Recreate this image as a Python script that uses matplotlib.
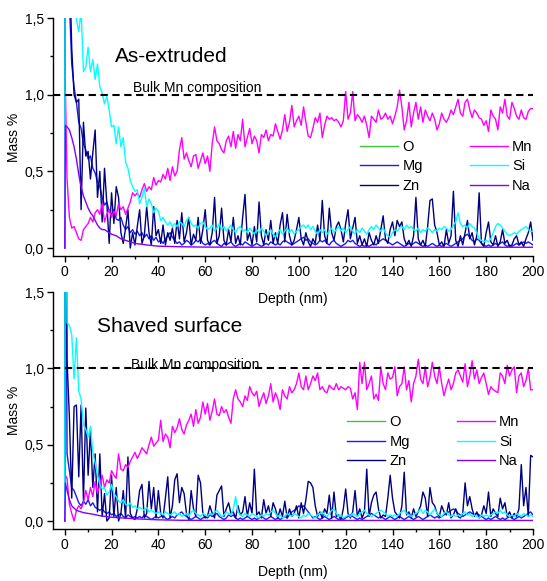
import matplotlib
matplotlib.use("Agg")
import matplotlib.pyplot as plt
import numpy as np
from matplotlib.ticker import MultipleLocator, FuncFormatter

plt.rcParams["font.family"] = ["Liberation Sans", "DejaVu Sans"]

# depth grid (nm) shared by the noisy profiles: surface point, 0.3 nm, then 1 nm steps
depth = np.r_[0.0, 0.3, np.arange(1, 201)]

# ---------------- As-extruded ----------------
ext_mn = [0.0, 1.02,
    0.45, 0.20, 0.13, 0.14, 0.10, 0.06, 0.05, 0.12, 0.14, 0.16,
    0.20, 0.17, 0.23, 0.25, 0.22, 0.29, 0.17, 0.22, 0.25, 0.20,
    0.24, 0.21, 0.29, 0.25, 0.27, 0.22, 0.26, 0.30, 0.36, 0.34,
    0.36, 0.33, 0.38, 0.42, 0.37, 0.40, 0.38, 0.46, 0.41, 0.44,
    0.43, 0.48, 0.45, 0.52, 0.44, 0.53, 0.47, 0.50, 0.64, 0.72,
    0.58, 0.62, 0.57, 0.53, 0.60, 0.61, 0.52, 0.57, 0.62, 0.55,
    0.60, 0.50, 0.68, 0.79, 0.70, 0.68, 0.64, 0.62, 0.70, 0.73,
    0.66, 0.76, 0.65, 0.74, 0.70, 0.84, 0.66, 0.72, 0.78, 0.68,
    0.73, 0.70, 0.62, 0.74, 0.72, 0.77, 0.70, 0.74, 0.73, 0.81,
    0.76, 0.71, 0.77, 0.87, 0.76, 0.82, 0.93, 0.79, 0.83, 0.86,
    0.80, 0.92, 0.82, 0.73, 0.72, 0.78, 0.85, 0.82, 0.88, 0.72,
    0.80, 0.86, 0.84, 0.85, 0.83, 0.84, 0.82, 0.79, 0.83, 1.02,
    0.84, 0.88, 1.02, 0.83, 0.87, 0.85, 0.82, 0.86, 0.80, 0.72,
    0.86, 0.84, 0.82, 0.90, 0.84, 0.85, 0.88, 0.84, 0.86, 0.81,
    0.86, 0.92, 1.03, 0.92, 0.77, 0.83, 0.95, 0.79, 0.88, 0.95,
    0.84, 0.92, 0.82, 0.90, 0.86, 0.83, 0.88, 0.84, 0.77, 0.81,
    0.88, 0.84, 0.82, 0.85, 0.90, 0.87, 0.92, 0.97, 0.88, 0.86,
    0.95, 0.97, 0.90, 0.85, 0.90, 0.88, 0.85, 0.84, 0.80, 0.83,
    0.76, 0.90, 0.86, 0.84, 0.77, 0.92, 0.88, 0.97, 0.86, 0.84,
    0.95, 0.91, 0.86, 0.84, 0.90, 0.85, 0.84, 0.89, 0.91, 0.91]

ext_si = [0.0, 3.0,
    3.00, 2.60, 2.20, 1.80, 1.49, 1.41, 1.55, 1.15, 1.18, 1.31,
    1.15, 1.23, 1.10, 1.20, 1.05, 1.01, 0.94, 0.99, 0.90, 0.79,
    0.80, 0.68, 0.79, 0.66, 0.72, 0.56, 0.52, 0.44, 0.40, 0.37,
    0.38, 0.29, 0.33, 0.39, 0.27, 0.32, 0.29, 0.23, 0.26, 0.24,
    0.18, 0.20, 0.17, 0.15, 0.17, 0.14, 0.16, 0.14, 0.17, 0.16,
    0.14, 0.18, 0.20, 0.16, 0.14, 0.15, 0.13, 0.16, 0.17, 0.14,
    0.12, 0.13, 0.15, 0.11, 0.13, 0.16, 0.12, 0.14, 0.11, 0.13,
    0.15, 0.12, 0.10, 0.13, 0.14, 0.11, 0.12, 0.10, 0.13, 0.11,
    0.09, 0.12, 0.10, 0.13, 0.11, 0.08, 0.10, 0.12, 0.09, 0.07,
    0.10, 0.12, 0.09, 0.11, 0.13, 0.10, 0.12, 0.09, 0.11, 0.12,
    0.14, 0.15, 0.13, 0.15, 0.12, 0.14, 0.11, 0.09, 0.12, 0.10,
    0.12, 0.09, 0.11, 0.13, 0.10, 0.12, 0.14, 0.11, 0.13, 0.10,
    0.12, 0.14, 0.11, 0.09, 0.12, 0.10, 0.13, 0.11, 0.09, 0.12,
    0.14, 0.12, 0.15, 0.13, 0.11, 0.13, 0.10, 0.08, 0.07, 0.10,
    0.12, 0.11, 0.13, 0.14, 0.12, 0.15, 0.13, 0.14, 0.12, 0.11,
    0.13, 0.10, 0.12, 0.11, 0.13, 0.12, 0.10, 0.12, 0.11, 0.13,
    0.12, 0.14, 0.13, 0.11, 0.12, 0.15, 0.17, 0.23, 0.16, 0.14,
    0.15, 0.13, 0.16, 0.14, 0.13, 0.10, 0.06, 0.05, 0.04, 0.05,
    0.04, 0.06, 0.10, 0.14, 0.16, 0.15, 0.13, 0.11, 0.09, 0.08,
    0.09, 0.10, 0.09, 0.11, 0.12, 0.13, 0.14, 0.12, 0.11, 0.11]

ext_mg = [0.0, 3.0,
    2.40, 1.60, 1.20, 1.05, 0.95, 0.82, 0.78, 0.68, 0.64, 0.58,
    0.60, 0.52, 0.49, 0.43, 0.40, 0.33, 0.28, 0.30, 0.24, 0.22,
    0.25, 0.19, 0.18, 0.20, 0.15, 0.12, 0.14, 0.10, 0.12, 0.09,
    0.11, 0.08, 0.10, 0.07, 0.09, 0.06, 0.08, 0.05, 0.07, 0.04,
    0.05, 0.03, 0.06, 0.08, 0.10, 0.07, 0.05, 0.03, 0.04, 0.02,
    0.03, 0.05, 0.04, 0.02, 0.03, 0.05, 0.04, 0.06, 0.03, 0.02,
    0.03, 0.02, 0.04, 0.05, 0.03, 0.02, 0.01, 0.03, 0.02, 0.03,
    0.04, 0.02, 0.01, 0.02, 0.03, 0.02, 0.04, 0.03, 0.02, 0.01,
    0.02, 0.03, 0.02, 0.01, 0.02, 0.03, 0.02, 0.04, 0.03, 0.02,
    0.03, 0.02, 0.04, 0.05, 0.04, 0.03, 0.02, 0.03, 0.04, 0.05,
    0.06, 0.07, 0.05, 0.06, 0.04, 0.03, 0.02, 0.03, 0.05, 0.04,
    0.05, 0.03, 0.02, 0.04, 0.05, 0.03, 0.02, 0.01, 0.02, 0.03,
    0.05, 0.04, 0.05, 0.03, 0.02, 0.01, 0.02, 0.01, 0.02, 0.01,
    0.02, 0.03, 0.02, 0.04, 0.05, 0.06, 0.05, 0.04, 0.03, 0.02,
    0.03, 0.04, 0.03, 0.02, 0.01, 0.02, 0.03, 0.02, 0.03, 0.04,
    0.03, 0.02, 0.01, 0.02, 0.01, 0.02, 0.03, 0.02, 0.01, 0.02,
    0.01, 0.02, 0.03, 0.02, 0.01, 0.02, 0.03, 0.04, 0.05, 0.06,
    0.08, 0.09, 0.07, 0.05, 0.04, 0.06, 0.05, 0.03, 0.02, 0.01,
    0.02, 0.01, 0.02, 0.03, 0.02, 0.03, 0.04, 0.02, 0.01, 0.02,
    0.01, 0.02, 0.03, 0.02, 0.03, 0.04, 0.03, 0.04, 0.03, 0.02]

ext_zn = [0.0, 3.0,
    2.60, 1.90, 1.30, 1.00, 0.95, 0.97, 0.25, 0.82, 0.60, 0.63,
    0.45, 0.62, 0.77, 0.33, 0.50, 0.17, 0.52, 0.29, 0.03, 0.36,
    0.16, 0.40, 0.33, 0.10, 0.03, 0.13, 0.25, 0.00, 0.10, 0.02,
    0.14, 0.25, 0.03, 0.08, 0.27, 0.10, 0.02, 0.27, 0.08, 0.12,
    0.03, 0.15, 0.02, 0.10, 0.05, 0.13, 0.03, 0.18, 0.06, 0.23,
    0.04, 0.10, 0.20, 0.02, 0.09, 0.05, 0.20, 0.03, 0.12, 0.25,
    0.05, 0.02, 0.10, 0.33, 0.03, 0.08, 0.26, 0.05, 0.02, 0.12,
    0.04, 0.20, 0.03, 0.08, 0.02, 0.20, 0.35, 0.05, 0.10, 0.02,
    0.14, 0.04, 0.30, 0.08, 0.02, 0.12, 0.05, 0.18, 0.03, 0.10,
    0.03, 0.15, 0.23, 0.04, 0.22, 0.08, 0.02, 0.05, 0.12, 0.20,
    0.06, 0.02, 0.10, 0.04, 0.01, 0.06, 0.03, 0.15, 0.05, 0.31,
    0.08, 0.03, 0.26, 0.10, 0.05, 0.14, 0.17, 0.12, 0.04, 0.16,
    0.25, 0.06, 0.13, 0.20, 0.03, 0.08, 0.02, 0.06, 0.01, 0.10,
    0.05, 0.02, 0.08, 0.03, 0.12, 0.21, 0.06, 0.03, 0.12, 0.17,
    0.08, 0.18, 0.14, 0.17, 0.06, 0.02, 0.05, 0.01, 0.08, 0.33,
    0.06, 0.02, 0.05, 0.01, 0.14, 0.31, 0.32, 0.15, 0.10, 0.02,
    0.04, 0.01, 0.12, 0.03, 0.08, 0.37, 0.05, 0.01, 0.08, 0.02,
    0.10, 0.18, 0.06, 0.10, 0.02, 0.08, 0.36, 0.03, 0.01, 0.10,
    0.17, 0.04, 0.02, 0.08, 0.01, 0.04, 0.12, 0.03, 0.05, 0.01,
    0.02, 0.06, 0.08, 0.02, 0.04, 0.01, 0.06, 0.10, 0.17, 0.05]

ext_na_depth = [0, 0.3, 1, 2, 3, 4, 5, 6, 7, 8, 9, 10, 11, 12, 13, 14, 15, 16, 17,
                18, 19, 20, 22, 24, 26, 28, 30, 35, 40, 50, 60, 80, 100, 150, 200]
ext_na = [0.0, 0.80, 0.79, 0.77, 0.72, 0.66, 0.58, 0.48, 0.40, 0.34, 0.30, 0.26,
          0.23, 0.21, 0.18, 0.15, 0.13, 0.12, 0.12, 0.11, 0.10, 0.09, 0.08, 0.06,
          0.05, 0.04, 0.03, 0.02, 0.012, 0.008, 0.006, 0.005, 0.005, 0.005, 0.005]

# ---------------- Shaved surface ----------------
shv_mn = [0.0, 0.30,
    0.28, 0.11, 0.05, 0.00, 0.07, 0.10, 0.08, 0.12, 0.20, 0.14,
    0.22, 0.16, 0.26, 0.18, 0.24, 0.30, 0.22, 0.27, 0.25, 0.33,
    0.30, 0.28, 0.44, 0.34, 0.33, 0.37, 0.35, 0.39, 0.42, 0.45,
    0.41, 0.44, 0.48, 0.46, 0.44, 0.50, 0.55, 0.49, 0.51, 0.53,
    0.66, 0.52, 0.57, 0.55, 0.48, 0.62, 0.58, 0.61, 0.67, 0.60,
    0.57, 0.63, 0.66, 0.70, 0.62, 0.73, 0.64, 0.68, 0.78, 0.70,
    0.77, 0.66, 0.72, 0.80, 0.70, 0.69, 0.75, 0.71, 0.73, 0.68,
    0.64, 0.80, 0.86, 0.80, 0.78, 0.75, 0.82, 0.79, 0.88, 0.84,
    0.82, 0.85, 0.75, 0.80, 0.84, 0.77, 0.82, 0.90, 0.78, 0.84,
    0.80, 0.73, 0.86, 0.82, 0.80, 0.88, 0.84, 0.86, 0.90, 0.97,
    0.88, 0.86, 0.95, 0.86, 0.90, 0.95, 0.92, 0.97, 0.86, 0.88,
    0.85, 0.84, 0.89, 0.87, 0.86, 0.90, 0.86, 0.88, 0.87, 0.86,
    0.88, 0.87, 0.80, 0.84, 0.73, 1.04, 0.90, 1.04, 0.86, 0.90,
    0.95, 0.80, 0.83, 0.79, 1.01, 0.90, 0.86, 0.97, 0.93, 0.94,
    1.01, 0.82, 0.88, 0.90, 1.01, 0.86, 0.92, 0.78, 0.90, 0.95,
    1.06, 0.93, 0.90, 1.01, 0.88, 0.94, 1.04, 0.95, 0.90, 1.01,
    0.90, 0.82, 0.88, 0.93, 0.86, 0.90, 0.97, 0.99, 0.95, 0.91,
    1.03, 0.88, 0.95, 1.05, 0.93, 0.99, 0.90, 0.94, 0.97, 0.90,
    0.83, 0.88, 0.86, 0.85, 0.84, 0.97, 0.95, 0.90, 1.02, 0.95,
    0.99, 1.01, 0.84, 0.95, 0.97, 0.88, 0.92, 1.00, 0.86, 0.86]

shv_si = [0.0, 3.0,
    1.30, 1.28, 1.22, 0.93, 1.20, 0.85, 0.80, 0.63, 0.60, 0.55,
    0.62, 0.45, 0.38, 0.30, 0.24, 0.21, 0.22, 0.17, 0.19, 0.24,
    0.18, 0.16, 0.13, 0.12, 0.14, 0.11, 0.10, 0.12, 0.09, 0.10,
    0.08, 0.09, 0.08, 0.07, 0.09, 0.06, 0.07, 0.06, 0.05, 0.06,
    0.05, 0.04, 0.06, 0.05, 0.04, 0.05, 0.06, 0.04, 0.05, 0.03,
    0.04, 0.05, 0.03, 0.06, 0.07, 0.05, 0.04, 0.03, 0.05, 0.04,
    0.03, 0.05, 0.04, 0.06, 0.07, 0.05, 0.03, 0.04, 0.06, 0.05,
    0.04, 0.08, 0.16, 0.06, 0.04, 0.03, 0.05, 0.04, 0.03, 0.05,
    0.04, 0.03, 0.02, 0.04, 0.03, 0.05, 0.04, 0.06, 0.07, 0.05,
    0.03, 0.04, 0.02, 0.03, 0.05, 0.04, 0.03, 0.05, 0.04, 0.03,
    0.02, 0.04, 0.03, 0.05, 0.04, 0.03, 0.02, 0.04, 0.05, 0.06,
    0.04, 0.03, 0.05, 0.07, 0.08, 0.05, 0.03, 0.04, 0.02, 0.03,
    0.04, 0.03, 0.05, 0.04, 0.03, 0.05, 0.06, 0.07, 0.05, 0.04,
    0.03, 0.04, 0.05, 0.06, 0.07, 0.06, 0.05, 0.03, 0.04, 0.03,
    0.04, 0.03, 0.05, 0.06, 0.07, 0.05, 0.04, 0.03, 0.04, 0.05,
    0.06, 0.08, 0.05, 0.07, 0.06, 0.04, 0.06, 0.08, 0.05, 0.04,
    0.03, 0.05, 0.06, 0.04, 0.03, 0.04, 0.03, 0.04, 0.03, 0.05,
    0.06, 0.04, 0.05, 0.03, 0.04, 0.03, 0.02, 0.04, 0.03, 0.04,
    0.03, 0.04, 0.05, 0.06, 0.05, 0.07, 0.05, 0.06, 0.04, 0.03,
    0.04, 0.03, 0.05, 0.04, 0.03, 0.05, 0.04, 0.03, 0.04, 0.03]

shv_mg = [0.0, 3.0,
    0.44, 0.33, 0.22, 0.20, 0.16, 0.12, 0.10, 0.13, 0.11, 0.14,
    0.10, 0.12, 0.09, 0.08, 0.07, 0.08, 0.06, 0.05, 0.06, 0.04,
    0.05, 0.03, 0.04, 0.05, 0.03, 0.02, 0.04, 0.03, 0.02, 0.03,
    0.02, 0.03, 0.02, 0.04, 0.03, 0.02, 0.01, 0.02, 0.03, 0.02,
    0.03, 0.04, 0.02, 0.01, 0.02, 0.03, 0.02, 0.04, 0.05, 0.06,
    0.04, 0.03, 0.02, 0.01, 0.02, 0.03, 0.02, 0.01, 0.02, 0.03,
    0.02, 0.04, 0.03, 0.04, 0.05, 0.03, 0.02, 0.01, 0.02, 0.04,
    0.03, 0.04, 0.02, 0.01, 0.02, 0.01, 0.02, 0.03, 0.02, 0.01,
    0.02, 0.01, 0.02, 0.03, 0.02, 0.01, 0.02, 0.03, 0.02, 0.01,
    0.02, 0.01, 0.02, 0.03, 0.02, 0.04, 0.06, 0.07, 0.08, 0.10,
    0.09, 0.10, 0.08, 0.06, 0.04, 0.02, 0.03, 0.02, 0.01, 0.02,
    0.03, 0.02, 0.01, 0.02, 0.03, 0.02, 0.01, 0.02, 0.01, 0.02,
    0.03, 0.04, 0.03, 0.02, 0.01, 0.02, 0.01, 0.02, 0.03, 0.04,
    0.05, 0.04, 0.03, 0.02, 0.03, 0.02, 0.01, 0.02, 0.03, 0.02,
    0.01, 0.02, 0.03, 0.02, 0.01, 0.02, 0.03, 0.02, 0.01, 0.02,
    0.03, 0.02, 0.01, 0.02, 0.03, 0.04, 0.03, 0.02, 0.03, 0.02,
    0.03, 0.04, 0.05, 0.06, 0.07, 0.08, 0.07, 0.05, 0.04, 0.03,
    0.04, 0.05, 0.06, 0.05, 0.04, 0.05, 0.04, 0.03, 0.02, 0.01,
    0.02, 0.01, 0.02, 0.03, 0.02, 0.01, 0.02, 0.01, 0.02, 0.03,
    0.02, 0.01, 0.02, 0.03, 0.02, 0.03, 0.04, 0.05, 0.06, 0.04]

shv_zn = [0.0, 3.0,
    1.05, 0.68, 0.15, 0.75, 0.76, 0.29, 0.76, 0.13, 0.74, 0.30,
    0.60, 0.22, 0.44, 0.06, 0.44, 0.03, 0.18, 0.00, 0.02, 0.30,
    0.03, 0.22, 0.00, 0.05, 0.20, 0.02, 0.42, 0.05, 0.02, 0.01,
    0.08, 0.20, 0.24, 0.02, 0.05, 0.26, 0.08, 0.22, 0.02, 0.20,
    0.05, 0.02, 0.15, 0.29, 0.02, 0.10, 0.27, 0.31, 0.12, 0.22,
    0.18, 0.05, 0.01, 0.20, 0.08, 0.03, 0.30, 0.25, 0.05, 0.02,
    0.03, 0.10, 0.05, 0.02, 0.17, 0.20, 0.23, 0.03, 0.08, 0.12,
    0.05, 0.06, 0.02, 0.10, 0.04, 0.06, 0.16, 0.03, 0.12, 0.05,
    0.34, 0.04, 0.06, 0.02, 0.14, 0.05, 0.10, 0.03, 0.12, 0.08,
    0.02, 0.08, 0.03, 0.13, 0.02, 0.08, 0.03, 0.05, 0.10, 0.02,
    0.12, 0.05, 0.14, 0.26, 0.25, 0.22, 0.10, 0.03, 0.06, 0.02,
    0.08, 0.05, 0.17, 0.02, 0.19, 0.03, 0.04, 0.01, 0.08, 0.21,
    0.05, 0.02, 0.06, 0.20, 0.03, 0.08, 0.02, 0.06, 0.34, 0.03,
    0.12, 0.17, 0.19, 0.08, 0.02, 0.04, 0.03, 0.15, 0.30, 0.15,
    0.06, 0.04, 0.02, 0.10, 0.32, 0.04, 0.06, 0.02, 0.08, 0.03,
    0.06, 0.10, 0.19, 0.15, 0.03, 0.22, 0.12, 0.10, 0.05, 0.03,
    0.10, 0.06, 0.04, 0.12, 0.02, 0.04, 0.08, 0.03, 0.02, 0.05,
    0.25, 0.10, 0.16, 0.08, 0.03, 0.06, 0.02, 0.04, 0.10, 0.05,
    0.19, 0.03, 0.08, 0.05, 0.03, 0.15, 0.08, 0.12, 0.03, 0.06,
    0.02, 0.05, 0.03, 0.08, 0.37, 0.10, 0.22, 0.03, 0.43, 0.42]

shv_na_depth = [0, 0.3, 1, 2, 3, 4, 5, 6, 8, 10, 12, 15, 20, 25, 30, 40, 50,
                60, 80, 100, 150, 200]
shv_na = [0.0, 0.25, 0.20, 0.14, 0.10, 0.085, 0.07, 0.065, 0.055, 0.05, 0.045,
          0.035, 0.025, 0.02, 0.015, 0.008, 0.005, 0.004, 0.004, 0.004, 0.004, 0.004]

bulk_mn = 1.0
elements = ["O", "Mg", "Zn", "Mn", "Si", "Na"]
colors = {"O": "#3ec83e", "Mg": "#1c1cf0", "Zn": "#000080",
          "Mn": "#ff00ff", "Si": "#00ffff", "Na": "#8000ff"}

panels = [
    ("As-extruded", (21.4, 1.21), (29.0, 1.015),
     {"Mg": (depth, ext_mg), "Zn": (depth, ext_zn), "Mn": (depth, ext_mn),
      "Si": (depth, ext_si), "Na": (ext_na_depth, ext_na)},
     [0.0969, 0.5594, 0.8775, 0.4096], (0.640, 0.488)),
    ("Shaved surface", (13.7, 1.24), (28.5, 0.995),
     {"Mg": (depth, shv_mg), "Zn": (depth, shv_zn), "Mn": (depth, shv_mn),
      "Si": (depth, shv_si), "Na": (shv_na_depth, shv_na)},
     [0.0969, 0.0895, 0.8775, 0.4079], (0.613, 0.480)),
]

fig = plt.figure(figsize=(5.47, 5.81), dpi=100)
comma = FuncFormatter(lambda v, pos: f"{v:.1f}".replace(".", ","))

for i, (title, title_xy, bulk_xy, series, rect, leg_xy) in enumerate(panels):
    ax = fig.add_axes(rect)
    ax.patch.set_visible(False)
    ax.set_zorder(2 - i)
    for el in elements:
        if el == "O":
            ax.plot([], [], color=colors[el], lw=1.0, label=el)
            continue
        x, y = series[el]
        ax.plot(x, y, color=colors[el], lw=1.0, label=el)

    ax.axhline(bulk_mn, color="black", lw=1.5, ls=(0, (3.5, 2.2)))
    ax.text(bulk_xy[0], bulk_xy[1], "Bulk Mn composition", fontsize=10)
    ax.text(title_xy[0], title_xy[1], title, fontsize=15)

    ax.set_xlim(-5, 200)
    ax.set_ylim(-0.052, 1.5)
    ax.xaxis.set_major_locator(MultipleLocator(20))
    ax.xaxis.set_minor_locator(MultipleLocator(10))
    ax.yaxis.set_major_locator(MultipleLocator(0.5))
    ax.yaxis.set_minor_locator(MultipleLocator(0.25))
    ax.yaxis.set_major_formatter(comma)
    ax.tick_params(which="major", direction="out", length=4.5, width=1,
                   labelsize=10, pad=2)
    ax.tick_params(which="minor", direction="out", length=2.5, width=1)
    for side in ("top", "right"):
        ax.spines[side].set_visible(False)
    for side in ("left", "bottom"):
        ax.spines[side].set_linewidth(1.0)

    ax.set_xlabel("Depth (nm)", fontsize=10, labelpad=9)
    ax.set_ylabel("Mass %", fontsize=10, labelpad=3)

    ax.legend(ncol=2, frameon=False, loc="upper left", bbox_to_anchor=leg_xy,
              fontsize=10.5, handlelength=2.6, handletextpad=0.3,
              columnspacing=3.2, labelspacing=0.38, borderpad=0,
              borderaxespad=0)

fig.savefig("out.png", dpi=100)
